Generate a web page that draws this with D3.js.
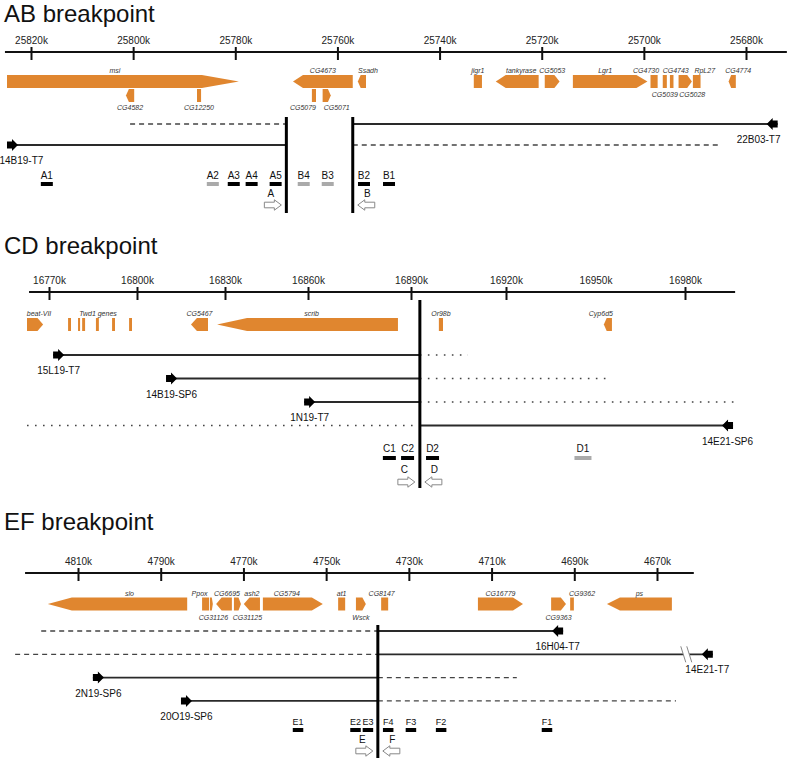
<!DOCTYPE html>
<html><head><meta charset="utf-8">
<script src="https://cdn.jsdelivr.net/npm/d3@7"></script>
<style>
body{margin:0;background:#fff}
svg{display:block}
text{font-family:"Liberation Sans",Arial,Helvetica,sans-serif}
</style>
</head><body>
<svg id="c" width="788" height="758"></svg>
<script>
// ================= DATA (genomic positions in kb) =================
// ---- AB breakpoint ----
const abTicks = [25820,25800,25780,25760,25740,25720,25700,25680];
const abAxisExtent = [25825.1, 25672];
const abGenes = [
  {name:"msi",       start:25824.7, end:25779.3, dir:"R", row:0, lab:"above"},
  {name:"CG4582",    start:25801.4, end:25799.8, dir:"L", row:1, lab:"below"},
  {name:"CG12250",   start:25787.5, end:25786.7, dir:"",  row:1, lab:"below"},
  {name:"CG4673",    start:25768.7, end:25757.0, dir:"L", row:0, lab:"above"},
  {name:"Ssadh",     start:25756.0, end:25754.4, dir:"L", row:0, lab:"above"},
  {name:"CG5079",    start:25765.0, end:25764.2, dir:"",  row:1, lab:"below"},
  {name:"CG5071",    start:25762.9, end:25761.3, dir:"R", row:1, lab:"below"},
  {name:"jigr1",     start:25733.3, end:25731.7, dir:"",  row:0, lab:"above"},
  {name:"tankyrase", start:25729.0, end:25720.6, dir:"L", row:0, lab:"above"},
  {name:"CG5053",    start:25719.4, end:25716.5, dir:"R", row:0, lab:"above"},
  {name:"Lgr1",      start:25713.9, end:25699.3, dir:"R", row:0, lab:"above"},
  {name:"CG4730",    start:25698.7, end:25697.3, dir:"",  row:0, lab:"above"},
  {name:"CG5039",    start:25696.3, end:25695.5, dir:"",  row:0, lab:"below"},
  {name:"CG4743",    start:25694.9, end:25694.2, dir:"",  row:0, lab:"above"},
  {name:"CG5028",    start:25693.2, end:25690.6, dir:"R", row:0, lab:"below"},
  {name:"RpL27",     start:25690.4, end:25688.9, dir:"",  row:0, lab:"above"},
  {name:"CG4774",    start:25683.4, end:25682.0, dir:"L", row:0, lab:"above"}
];
const abBreaks = [25770.0, 25757.0];
const abReads = [
  {name:"22B03-T7", row:0, arrow:25673.8, dir:"L", solid:[25757.0,25673.8], dashed:[25800.6,25770.0]},
  {name:"14B19-T7", row:1, arrow:25824.7, dir:"R", solid:[25824.7,25770.0], dashed:[25757.0,25685.2]}
];
const abPrimers = [
  {name:"A1", pos:25816.9, amplified:true},
  {name:"A2", pos:25784.4, amplified:false},
  {name:"A3", pos:25780.3, amplified:true},
  {name:"A4", pos:25776.8, amplified:true},
  {name:"A5", pos:25772.1, amplified:true},
  {name:"B4", pos:25766.6, amplified:false},
  {name:"B3", pos:25761.9, amplified:false},
  {name:"B2", pos:25754.8, amplified:true},
  {name:"B1", pos:25749.9, amplified:true}
];
const abDirs = [{name:"A", bp:0, dir:"R"}, {name:"B", bp:1, dir:"L"}];

// ---- CD breakpoint ----
const cdTicks = [16770,16800,16830,16860,16890,16920,16950,16980];
const cdUnmarkedTicks = [16950];
const cdAxisExtent = [16763.2, 16996.8];
const cdGenes = [
  {name:"beat-VII", start:16762.5, end:16768.0, dir:"R", row:0, lab:"above"},
  {name:"", start:16776.5, end:16777.5, dir:"", row:0, lab:"none"},
  {name:"", start:16779.9, end:16780.6, dir:"", row:0, lab:"none"},
  {name:"", start:16781.3, end:16782.3, dir:"", row:0, lab:"none"},
  {name:"", start:16786.0, end:16787.0, dir:"", row:0, lab:"none"},
  {name:"", start:16791.5, end:16792.5, dir:"", row:0, lab:"none"},
  {name:"", start:16797.3, end:16798.3, dir:"", row:0, lab:"none"},
  {name:"CG5467", start:16818.4, end:16824.2, dir:"L", row:0, lab:"above"},
  {name:"scrib",  start:16827.3, end:16886.2, dir:"L", row:0, lab:"above"},
  {name:"Or98b",  start:16898.8, end:16900.1, dir:"",  row:0, lab:"above"},
  {name:"Cyp6d5", start:16952.8, end:16955.5, dir:"L", row:0, lab:"above"}
];
const cdGroupLabels = [{text:"Twd1 genes", pos:16786.7}];
const cdBreaks = [16892.8];
const cdReads = [
  {name:"15L19-T7",  row:0, arrow:16771.4, dir:"R", solid:[16771.4,16892.8], dashed:[16892.8,16908.0]},
  {name:"14B19-SP6", row:1, arrow:16809.9, dir:"R", solid:[16809.9,16892.8], dashed:[16892.8,16953.9]},
  {name:"1N19-T7",   row:2, arrow:16858.6, dir:"R", solid:[16858.6,16892.8], dashed:[16892.8,16996.8]},
  {name:"14E21-SP6", row:3, arrow:16996.1, dir:"L", solid:[16892.8,16996.1], dashed:[16762.5,16892.8]}
];
const cdPrimers = [
  {name:"C1", pos:16883.7, amplified:true},
  {name:"C2", pos:16889.0, amplified:true},
  {name:"D2", pos:16896.8, amplified:true},
  {name:"D1", pos:16945.8, amplified:false}
];
const cdDirs = [{name:"C", bp:0, dir:"R"}, {name:"D", bp:0, dir:"L"}];

// ---- EF breakpoint ----
const efTicks = [4810,4790,4770,4750,4730,4710,4690,4670];
const efAxisExtent = [4822.8, 4661.1];
const efGenes = [
  {name:"slo",     start:4817.3, end:4783.6, dir:"L", row:0, lab:"above"},
  {name:"Ppox",    start:4780.0, end:4778.3, dir:"",  row:0, lab:"above"},
  {name:"CG31126", start:4778.1, end:4777.4, dir:"R", row:0, lab:"below"},
  {name:"CG6695",  start:4776.6, end:4772.8, dir:"L", row:0, lab:"above"},
  {name:"CG31125", start:4772.3, end:4770.6, dir:"R", row:0, lab:"below"},
  {name:"ash2",    start:4769.9, end:4766.0, dir:"L", row:0, lab:"above"},
  {name:"CG5794",  start:4765.3, end:4750.8, dir:"R", row:0, lab:"above"},
  {name:"at1",     start:4747.1, end:4745.4, dir:"",  row:0, lab:"above"},
  {name:"Wsck",    start:4742.8, end:4740.4, dir:"R", row:0, lab:"below"},
  {name:"CG8147",  start:4736.7, end:4735.0, dir:"",  row:0, lab:"above"},
  {name:"CG16779", start:4713.3, end:4702.4, dir:"R", row:0, lab:"above"},
  {name:"CG9363",  start:4695.6, end:4692.0, dir:"R", row:0, lab:"below"},
  {name:"CG9362",  start:4691.0, end:4690.1, dir:"",  row:0, lab:"above"},
  {name:"ps",      start:4682.1, end:4666.4, dir:"L", row:0, lab:"above"}
];
const efBreaks = [4737.5];
const efReads = [
  {name:"16H04-T7",  row:0, arrow:4692.7, dir:"L", solid:[4737.5,4692.7], dashed:[4818.9,4737.5]},
  {name:"14E21-T7",  row:1, arrow:4656.5, dir:"L", solid:[4737.5,4656.5], dashed:[4825.2,4737.5], breakAt:4662.8},
  {name:"2N19-SP6",  row:2, arrow:4806.4, dir:"R", solid:[4806.4,4737.5], dashed:[4737.5,4703.9]},
  {name:"20O19-SP6", row:3, arrow:4785.1, dir:"R", solid:[4785.1,4737.5], dashed:[4737.5,4665.4]}
];
const efPrimers = [
  {name:"E1", pos:4756.8, amplified:true},
  {name:"E2", pos:4742.9, amplified:true},
  {name:"E3", pos:4739.9, amplified:true},
  {name:"F4", pos:4735.0, amplified:true},
  {name:"F3", pos:4729.5, amplified:true},
  {name:"F2", pos:4722.2, amplified:true},
  {name:"F1", pos:4696.6, amplified:true}
];
const efDirs = [{name:"E", bp:0, dir:"R"}, {name:"F", bp:0, dir:"L"}];

// ================= STYLE / LAYOUT =================
const ORANGE = "#e0862f";
const longHeads = {msi:37, scrib:30, slo:24, Lgr1:11, CG5794:11, CG16779:10, ps:13};
const labelNudge = {msi:-8, Ssadh:6, tankyrase:4, Lgr1:-5, CG4730:-8, CG4743:4, CG5028:7, RpL27:8,
  CG4774:6, CG5079:-11, CG5071:10, "beat-VII":4, scrib:4, Cyp6d5:-7, slo:12, Ppox:-6,
  CG31125:10, CG5794:-6, CG8147:-3, CG9362:10, CG6695:3, CG31126:2};

const svg = d3.select("#c");

function genePath(x0, x1, cy, h, dir, hl) {
  const t = cy - h/2, b = cy + h/2;
  const p = d3.path();
  if (dir === "R") { p.moveTo(x0,t); p.lineTo(x1-hl,t); p.lineTo(x1,cy); p.lineTo(x1-hl,b); p.lineTo(x0,b); }
  else if (dir === "L") { p.moveTo(x1,t); p.lineTo(x0+hl,t); p.lineTo(x0,cy); p.lineTo(x0+hl,b); p.lineTo(x1,b); }
  else { p.rect(x0, t, x1-x0, h); return p.toString(); }
  p.closePath();
  return p.toString();
}
function blockArrow(xt, cy, dir, len, hl, sh, hh) {
  const s = dir === "R" ? 1 : -1;
  const pts = [[xt,cy-sh],[xt+s*(len-hl),cy-sh],[xt+s*(len-hl),cy-hh],[xt+s*len,cy],
               [xt+s*(len-hl),cy+hh],[xt+s*(len-hl),cy+sh],[xt,cy+sh]];
  return d3.line()(pts) + "Z";
}

function drawPanel(cfg) {
  const L = cfg.layout, x = cfg.x;
  const g = svg.append("g");

  // title
  g.append("text").attr("x", 4).attr("y", L.titleY).attr("font-size", 24).attr("fill", "#111").text(cfg.title);

  // axis
  g.append("line").attr("x1", x(cfg.axisExtent[0])).attr("x2", x(cfg.axisExtent[1]))
    .attr("y1", L.axisY).attr("y2", L.axisY).attr("stroke", "#111").attr("stroke-width", 2);
  const ax = g.append("g").attr("transform", `translate(0,${L.axisY})`)
    .call(d3.axisTop(x).tickValues(cfg.ticks).tickFormat(d => d + "k").tickSizeInner(5).tickSizeOuter(0).tickPadding(3.5));
  ax.select(".domain").remove();
  ax.selectAll(".tick line").attr("y1", 8).attr("y2", -5).attr("stroke", "#111").attr("stroke-width", 2)
    .attr("display", d => (cfg.unmarked || []).includes(d) ? "none" : null);
  ax.selectAll(".tick text").attr("font-size", 10).attr("fill", "#222")
    .attr("font-family", "Liberation Sans, Arial, sans-serif");

  // genes
  cfg.genes.forEach(gn => {
    const xa = x(gn.start), xb = x(gn.end);
    const x0 = Math.min(xa, xb), x1 = Math.max(xa, xb);
    const cy = gn.row === 1 ? L.row1Y : L.geneY;
    const hl = longHeads[gn.name] !== undefined ? longHeads[gn.name] : Math.min(10, (x1 - x0) * 0.35);
    g.append("path").attr("d", genePath(x0, x1, cy, 13, gn.dir, hl)).attr("fill", ORANGE);
    if (gn.lab !== "none") {
      const lx = (x0 + x1) / 2 + (labelNudge[gn.name] || 0);
      const ly = gn.lab === "above" ? cy - 8.5 : cy + (gn.row === 1 ? 14 : 15.5);
      g.append("text").attr("x", lx).attr("y", ly).attr("text-anchor", "middle")
        .attr("font-size", 7).attr("font-style", "italic").attr("fill", "#333").text(gn.name);
    }
  });
  (cfg.groupLabels || []).forEach(gl => {
    g.append("text").attr("x", x(gl.pos)).attr("y", L.geneY - 8.5).attr("text-anchor", "middle")
      .attr("font-size", 7).attr("font-style", "italic").attr("fill", "#333").text(gl.text);
  });

  // reads
  cfg.reads.forEach(r => {
    const y = L.readY + r.row * L.readGap;
    g.append("line").attr("x1", x(r.dashed[0])).attr("x2", x(r.dashed[1])).attr("y1", y).attr("y2", y)
      .attr("stroke", "#444").attr("stroke-width", L.dashW).attr("stroke-dasharray", L.dash);
    g.append("line").attr("x1", x(r.solid[0])).attr("x2", x(r.solid[1])).attr("y1", y).attr("y2", y)
      .attr("stroke", "#2a2a2a").attr("stroke-width", 1.8);
    if (r.breakAt !== undefined) {
      const bx = x(r.breakAt);
      g.append("path").attr("d", d3.line()([[bx-6,y-8],[bx,y-8],[bx+5,y+8],[bx-1,y+8]]) + "Z").attr("fill", "#fff");
      [[-6,-1],[0,5]].forEach(([a,b]) => g.append("line").attr("x1", bx+a).attr("y1", y-8).attr("x2", bx+b).attr("y2", y+8)
        .attr("stroke", "#888").attr("stroke-width", 1));
    }
    const xt = x(r.arrow);
    g.append("path").attr("d", blockArrow(xt, y, r.dir, 11, 6, 3.5, 6)).attr("fill", "#000");
    const ac = xt + (r.dir === "R" ? 5.5 : -5.5);
    const tw = r.name.length * 5.6;
    const lx = Math.max(tw / 2 - 1, Math.min(781 - tw / 2, ac));
    g.append("text").attr("x", lx).attr("y", y + 19).attr("text-anchor", "middle")
      .attr("font-size", 10).attr("fill", "#111").text(r.name);
  });

  // breakpoints
  cfg.breaks.forEach(b => {
    g.append("line").attr("x1", x(b)).attr("x2", x(b)).attr("y1", L.bpTop).attr("y2", L.bpBottom)
      .attr("stroke", "#000").attr("stroke-width", 3);
  });

  // primers
  cfg.primers.forEach(p => {
    const w = (L.primerWide && L.primerWide[p.name]) || L.primerW;
    const cx = x(p.pos);
    g.append("rect").attr("x", cx - w/2).attr("y", L.primerBarY).attr("width", w).attr("height", 4)
      .attr("fill", p.amplified ? "#000" : "#aaa");
    g.append("text").attr("x", cx).attr("y", L.primerLabelY).attr("text-anchor", "middle")
      .attr("font-size", L.primerFont).attr("fill", "#111").text(p.name);
  });

  // direction arrows
  cfg.dirs.forEach(d => {
    const bx = x(cfg.breaks[d.bp]);
    const tip = d.dir === "R" ? bx - 5 : bx + 5;
    const tail = d.dir === "R" ? tip - 17 : tip + 17;
    g.append("path").attr("d", blockArrow(tail, L.dirArrowY, d.dir, 17, 7, 2.8, 5.2))
      .attr("fill", "#fff").attr("stroke", "#888").attr("stroke-width", 1);
    g.append("text").attr("x", (tip + tail) / 2 - (d.dir === "R" ? 2 : -1)).attr("y", L.dirLabelY).attr("text-anchor", "middle")
      .attr("font-size", 10).attr("fill", "#111").text(d.name);
  });
}

// scales
const xAB = d3.scaleLinear().domain([25820, 25680]).range([31, 746]);
const xCD = d3.scaleLinear().domain([16770, 16800, 16830, 16860, 16890, 16920, 16980])
  .range([49, 137, 225, 308, 411, 506, 685]);
const xEF = d3.scaleLinear().domain([4810, 4670]).range([78, 657]);

drawPanel({
  title: "AB breakpoint", x: xAB, ticks: abTicks, axisExtent: abAxisExtent, genes: abGenes,
  breaks: abBreaks, reads: abReads, primers: abPrimers, dirs: abDirs,
  layout: {titleY:22, axisY:52, geneY:81.5, row1Y:95.5, readY:124, readGap:21, dash:"5,4", dashW:1.3,
    primerLabelY:179, primerBarY:182, primerW:12, primerFont:10, dirLabelY:197, dirArrowY:205, bpTop:117, bpBottom:213}
});
drawPanel({
  title: "CD breakpoint", x: xCD, ticks: cdTicks, unmarked: cdUnmarkedTicks, axisExtent: cdAxisExtent, genes: cdGenes,
  groupLabels: cdGroupLabels, breaks: cdBreaks, reads: cdReads, primers: cdPrimers, dirs: cdDirs,
  layout: {titleY:254, axisY:292, geneY:324.5, readY:355, readGap:23.5, dash:"1.6,6.4", dashW:1.5,
    primerLabelY:452, primerBarY:456, primerW:13, primerWide:{D1:17}, primerFont:10, dirLabelY:473, dirArrowY:482, bpTop:300, bpBottom:488}
});
drawPanel({
  title: "EF breakpoint", x: xEF, ticks: efTicks, axisExtent: efAxisExtent, genes: efGenes,
  breaks: efBreaks, reads: efReads, primers: efPrimers, dirs: efDirs,
  layout: {titleY:530, axisY:573, geneY:604, readY:631, readGap:23.3, dash:"5,4", dashW:1.3,
    primerLabelY:725, primerBarY:728, primerW:10.5, primerFont:9, dirLabelY:743, dirArrowY:751, bpTop:625, bpBottom:758}
});
</script>
</body></html>
